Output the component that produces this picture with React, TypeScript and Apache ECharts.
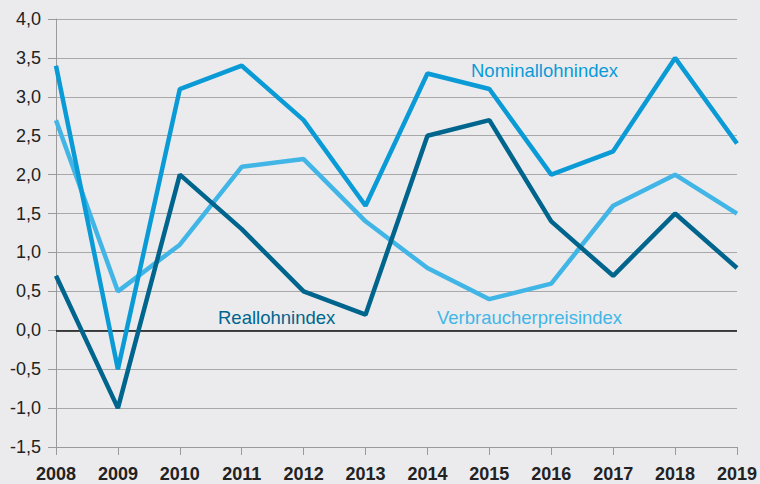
import React, { useEffect, useRef } from "react";
import * as echarts from "echarts";

const years = ["2008", "2009", "2010", "2011", "2012", "2013", "2014", "2015", "2016", "2017", "2018", "2019"];
const nominal = [3.4, -0.5, 3.1, 3.4, 2.7, 1.6, 3.3, 3.1, 2.0, 2.3, 3.5, 2.4];
const real = [0.7, -1.0, 2.0, 1.3, 0.5, 0.2, 2.5, 2.7, 1.4, 0.7, 1.5, 0.8];
const cpi = [2.7, 0.5, 1.1, 2.1, 2.2, 1.4, 0.8, 0.4, 0.6, 1.6, 2.0, 1.5];

const C_NOM = "#0a9bd7";
const C_REAL = "#00658d";
const C_CPI = "#41b6e6";
const FONT = "Liberation Sans";

export default function App() {
  const ref = useRef<HTMLDivElement>(null);
  useEffect(() => {
    document.body.style.margin = "0";
    const chart = echarts.init(ref.current!, null, { renderer: "svg" });
    chart.setOption({
      animation: false,
      backgroundColor: "#ebebee",
      textStyle: { fontFamily: FONT },
      grid: { left: 56, right: 21, top: 19, bottom: 37 },
      xAxis: {
        type: "category",
        data: years,
        boundaryGap: false,
        axisLine: { onZero: false, lineStyle: { color: "#9a9a9a", width: 1 } },
        axisTick: { show: true, length: 8, lineStyle: { color: "#9a9a9a" } },
        axisLabel: { color: "#222", fontSize: 18, fontWeight: "bold", fontFamily: FONT, margin: 18 },
        splitLine: { show: false },
      },
      yAxis: {
        type: "value",
        min: -1.5,
        max: 4.0,
        interval: 0.5,
        axisLine: { show: true, lineStyle: { color: "#9a9a9a", width: 1 } },
        axisTick: { show: true, length: 8, lineStyle: { color: "#9a9a9a" } },
        axisLabel: {
          color: "#222",
          fontSize: 18,
          fontFamily: FONT,
          margin: 15,
          formatter: (v: number) => v.toFixed(1).replace(".", ","),
        },
        splitLine: { show: true, lineStyle: { color: "#a8a8a8", width: 1 } },
      },
      series: [
        {
          name: "Verbraucherpreisindex",
          type: "line",
          data: cpi,
          symbol: "none",
          lineStyle: { color: C_CPI, width: 4.5 },
          z: 3,
          markLine: {
            silent: true,
            symbol: "none",
            label: { show: false },
            lineStyle: { color: "#111", width: 1.5, type: "solid" },
            data: [{ yAxis: 0 }],
            z: 1,
          },
        },
        {
          name: "Reallohnindex",
          type: "line",
          data: real,
          symbol: "none",
          lineStyle: { color: C_REAL, width: 4.5 },
          z: 4,
        },
        {
          name: "Nominallohnindex",
          type: "line",
          data: nominal,
          symbol: "none",
          lineStyle: { color: C_NOM, width: 4.5 },
          z: 5,
        },
      ],
      graphic: [
        { type: "text", x: 471, y: 61, style: { text: "Nominallohnindex", fill: C_NOM, font: `18.5px '${FONT}'` } },
        { type: "text", x: 218, y: 308, style: { text: "Reallohnindex", fill: C_REAL, font: `18.5px '${FONT}'` } },
        { type: "text", x: 437, y: 308, style: { text: "Verbraucherpreisindex", fill: C_CPI, font: `18.5px '${FONT}'` } },
      ],
    });
    return () => chart.dispose();
  }, []);
  return <div ref={ref} style={{ width: 760, height: 484 }} />;
}
